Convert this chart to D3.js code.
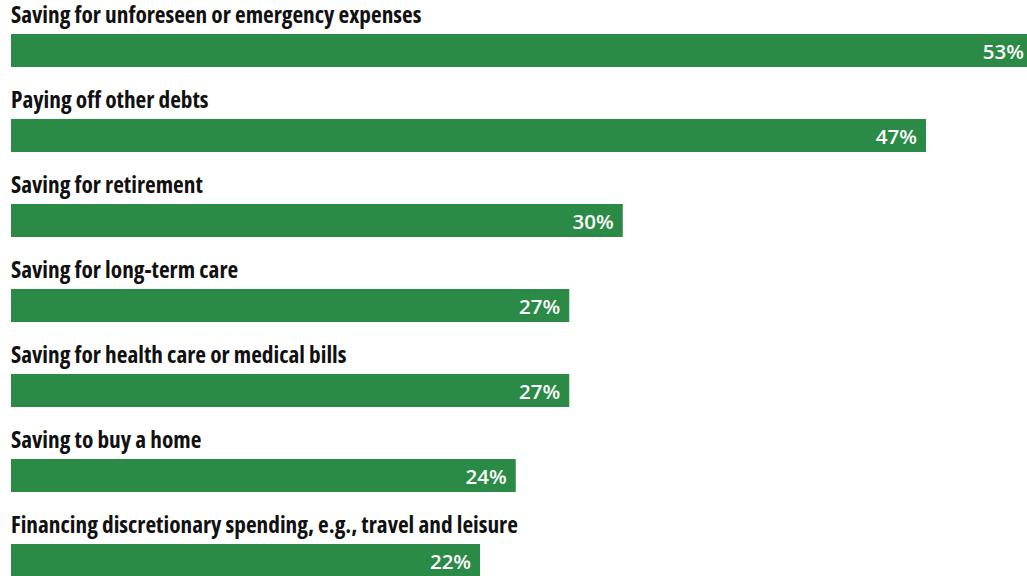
<!DOCTYPE html>
<html>
<head>
<meta charset="utf-8">
<script src="https://cdn.jsdelivr.net/npm/d3@7"></script>
<style>
  html, body { margin: 0; padding: 0; background: #fff; }
  svg { display: block; }
  .cat { font-family: "Open Sans", "Liberation Sans Narrow", sans-serif; font-weight: 700; font-stretch: 75%; font-size: 23.3px; fill: #111; }
  .val { font-family: "Open Sans", sans-serif; font-weight: 600; font-size: 20.5px; fill: #fff; }
</style>
</head>
<body>
<script>
// Share of respondents citing each financial priority
const categories = [
  "Saving for unforeseen or emergency expenses",
  "Paying off other debts",
  "Saving for retirement",
  "Saving for long-term care",
  "Saving for health care or medical bills",
  "Saving to buy a home",
  "Financing discretionary spending, e.g., travel and leisure"
];
const values = [53, 47, 30, 27, 27, 24, 22];

const W = 1027, H = 576;
const svg = d3.select("body").append("svg").attr("width", W).attr("height", H);

const x = d3.scaleLinear().domain([-4.3, 53]).range([11, 1033]);
const y = d3.scaleBand().domain(categories).range([34, 34 + 85 * categories.length]).paddingInner(0).paddingOuter(0);
const barH = 33;

const rows = svg.selectAll("g.row").data(categories).join("g")
  .attr("class", "row")
  .attr("transform", d => `translate(0,${y(d)})`);

rows.append("rect")
  .attr("x", x(-4.3))
  .attr("y", 0)
  .attr("width", (d, i) => x(values[i]) - x(-4.3))
  .attr("height", barH)
  .attr("fill", "#2b8a46");

rows.append("text")
  .attr("class", "cat")
  .attr("x", 11)
  .attr("y", -11)
  .text(d => d);

rows.append("text")
  .attr("class", "val")
  .attr("x", (d, i) => x(values[i]) - 9)
  .attr("y", barH / 2 + 8)
  .attr("text-anchor", "end")
  .text((d, i) => values[i] + "%");
</script>
</body>
</html>
